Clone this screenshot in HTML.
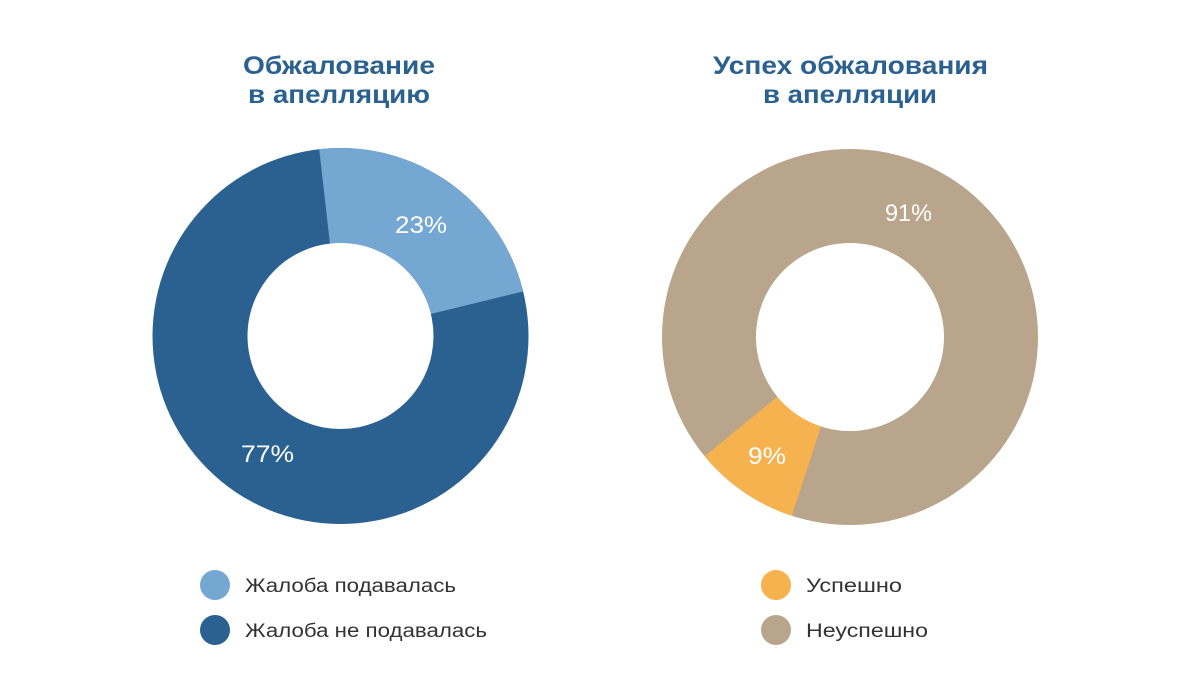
<!DOCTYPE html>
<html><head><meta charset="utf-8"><style>
html,body{margin:0;padding:0;background:#fff;}
svg{display:block;}
</style></head><body>
<svg width="1200" height="700" viewBox="0 0 1200 700" xmlns="http://www.w3.org/2000/svg" font-family="Liberation Sans, sans-serif">
<rect width="1200" height="700" fill="#fff"/>
<g fill="#2a6190" font-weight="bold" font-size="25">
<text x="243" y="74" textLength="192" lengthAdjust="spacingAndGlyphs">Обжалование</text>
<text x="248" y="103" textLength="182" lengthAdjust="spacingAndGlyphs">в апелляцию</text>
<text x="713" y="74" textLength="275" lengthAdjust="spacingAndGlyphs">Успех обжалования</text>
<text x="763" y="103" textLength="174" lengthAdjust="spacingAndGlyphs">в апелляции</text>
</g>
<circle cx="340.5" cy="336" r="188" fill="#2a6190"/>
<path d="M340.5,336 L319.2,149.2 A188 188 0 0 1 523.1,291.5 Z" fill="#74a7d2"/>
<circle cx="340.5" cy="336" r="93" fill="#fff"/>
<circle cx="850" cy="337" r="188" fill="#b8a58b"/>
<path d="M850,337 L791.9,515.8 A188 188 0 0 1 704.7,456.3 Z" fill="#f6b24e"/>
<circle cx="850" cy="337" r="94" fill="#fff"/>
<g fill="#fff" font-size="24">
<text x="395" y="233" textLength="52" lengthAdjust="spacingAndGlyphs">23%</text>
<text x="241" y="462" textLength="53" lengthAdjust="spacingAndGlyphs">77%</text>
<text x="885" y="221" textLength="47" lengthAdjust="spacingAndGlyphs">91%</text>
<text x="748" y="464" textLength="38" lengthAdjust="spacingAndGlyphs">9%</text>
</g>
<circle cx="215" cy="585" r="15" fill="#74a7d2"/>
<circle cx="215" cy="630" r="15" fill="#2a6190"/>
<circle cx="776" cy="585" r="15" fill="#f6b24e"/>
<circle cx="776" cy="630" r="15" fill="#b8a58b"/>
<g fill="#333" font-size="19">
<text x="245" y="592" textLength="211" lengthAdjust="spacingAndGlyphs">Жалоба подавалась</text>
<text x="245" y="637" textLength="242" lengthAdjust="spacingAndGlyphs">Жалоба не подавалась</text>
<text x="806" y="592" textLength="96" lengthAdjust="spacingAndGlyphs">Успешно</text>
<text x="806" y="637" textLength="122" lengthAdjust="spacingAndGlyphs">Неуспешно</text>
</g>
</svg>
</body></html>
